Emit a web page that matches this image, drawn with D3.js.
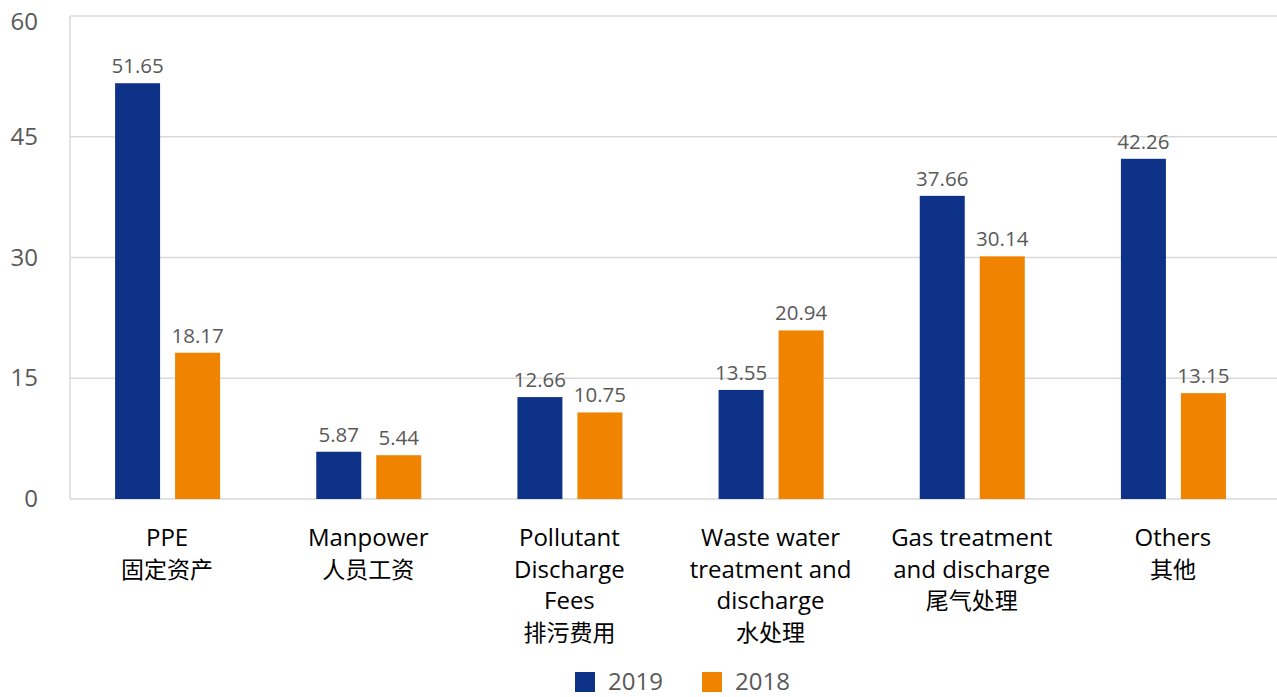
<!DOCTYPE html>
<html>
<head>
<meta charset="utf-8">
<script src="https://cdn.jsdelivr.net/npm/d3@7"></script>
<style>
  html, body { margin: 0; padding: 0; background: #fff; }
  svg { display: block; }
  text { font-family: "Open Sans", "Noto Sans", "Noto Sans CJK SC", sans-serif; }
</style>
</head>
<body>
<svg id="chart" width="1277" height="697"></svg>
<script>
// Expense categories (English / Chinese lines)
const categories = [
  ["PPE", "固定资产"],
  ["Manpower", "人员工资"],
  ["Pollutant", "Discharge", "Fees", "排污费用"],
  ["Waste water", "treatment and", "discharge", "水处理"],
  ["Gas treatment", "and discharge", "尾气处理"],
  ["Others", "其他"]
];
const seriesNames = ["2019", "2018"];
const values2019 = [51.65, 5.87, 12.66, 13.55, 37.66, 42.26];
const values2018 = [18.17, 5.44, 10.75, 20.94, 30.14, 13.15];
const yTicks = [0, 15, 30, 45, 60];
const colors = ["#0d3288", "#f08300"];

const svg = d3.select("#chart");
const plot = { left: 70, right: 1277, top: 16, bottom: 499 };

const y = d3.scaleLinear().domain([0, 60]).range([plot.bottom, plot.top]);
const x = d3.scaleBand().domain(d3.range(categories.length)).range([66.5, 1273.5]);
const xs = d3.scaleBand().domain(seriesNames).range([-52, 53]).paddingInner(0.25);

// Horizontal gridlines
svg.append("g")
  .selectAll("line")
  .data(yTicks)
  .join("line")
  .attr("x1", plot.left).attr("x2", plot.right)
  .attr("y1", d => y(d)).attr("y2", d => y(d))
  .attr("stroke", "#d9d9d9").attr("stroke-width", 1.5);

// Left axis line
svg.append("line")
  .attr("x1", plot.left).attr("x2", plot.left)
  .attr("y1", plot.top).attr("y2", plot.bottom)
  .attr("stroke", "#d9d9d9").attr("stroke-width", 1.5);

// Y tick labels (top label kept inside the canvas)
const yAxis = d3.axisLeft(y).tickValues(yTicks).tickSize(0).tickPadding(0);
const yg = svg.append("g").attr("transform", "translate(38,0)").call(yAxis);
yg.select(".domain").remove();
yg.selectAll(".tick").filter(d => d === 60).attr("transform", `translate(0,${y(60) + 6})`);
yg.selectAll("text")
  .attr("fill", "#595959")
  .style("font-size", "24px")
  .style("font-family", "'Open Sans', 'Noto Sans', sans-serif");

// Bars
const rows = categories.map((c, i) => ({ i, vals: [values2019[i], values2018[i]] }));
const groups = svg.append("g").selectAll("g")
  .data(rows)
  .join("g")
  .attr("transform", d => `translate(${x(d.i) + x.bandwidth() / 2},0)`);

groups.selectAll("rect")
  .data(d => d.vals.map((v, k) => ({ v, k })))
  .join("rect")
  .attr("x", d => xs(seriesNames[d.k]))
  .attr("width", xs.bandwidth())
  .attr("y", d => y(d.v))
  .attr("height", d => y(0) - y(d.v))
  .attr("fill", d => colors[d.k]);

// Value labels
groups.selectAll("text.val")
  .data(d => d.vals.map((v, k) => ({ v, k })))
  .join("text")
  .attr("class", "val")
  .attr("x", d => xs(seriesNames[d.k]) + xs.bandwidth() / 2)
  .attr("y", d => y(d.v) - 10)
  .attr("text-anchor", "middle")
  .attr("fill", "#595959")
  .style("font-size", "20.5px")
  .text(d => d.v.toFixed(2));

// Category labels
const isCJK = s => /[\u4e00-\u9fff]/.test(s);
const catG = svg.append("g").selectAll("text")
  .data(categories)
  .join("text")
  .attr("x", (d, i) => x(i) + x.bandwidth() / 2)
  .attr("y", 546)
  .attr("text-anchor", "middle")
  .attr("fill", "#000")
  .style("font-size", "24px");
catG.selectAll("tspan")
  .data(d => d)
  .join("tspan")
  .attr("x", function () { return d3.select(this.parentNode).attr("x"); })
  .attr("dy", (d, j) => j === 0 ? 0 : 31.7)
  .style("font-family", d => isCJK(d) ? "'Noto Sans CJK SC', sans-serif" : null)
  .style("font-size", d => isCJK(d) ? "23px" : null)
  .text(d => d);

// Legend
const legend = svg.append("g");
const legendItems = [{ name: "2019", x: 575 }, { name: "2018", x: 702 }];
legendItems.forEach((it, k) => {
  legend.append("rect")
    .attr("x", it.x).attr("y", 672)
    .attr("width", 20).attr("height", 20)
    .attr("fill", colors[k]);
  legend.append("text")
    .attr("x", it.x + 33).attr("y", 690)
    .attr("fill", "#595959")
    .style("font-size", "24px")
    .text(it.name);
});
</script>
</body>
</html>
